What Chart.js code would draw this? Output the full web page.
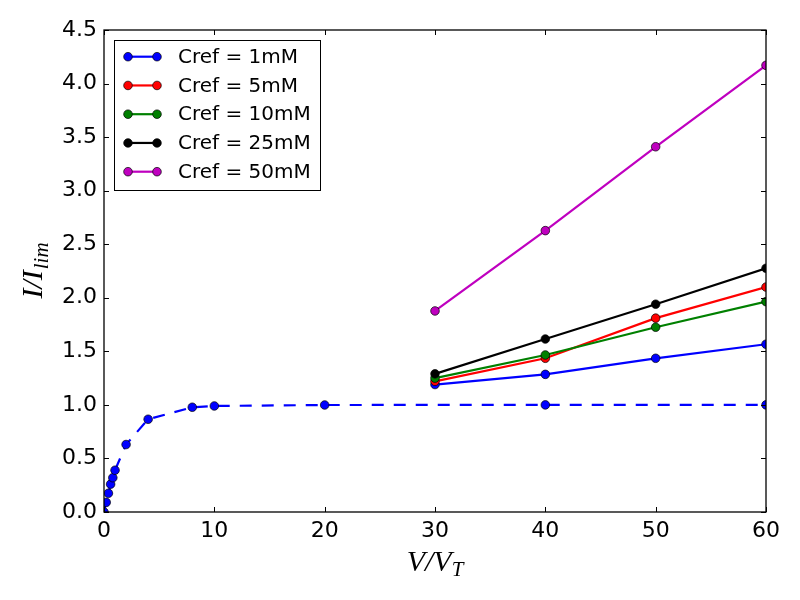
<!DOCTYPE html>
<html>
<head>
<meta charset="utf-8">
<script src="https://cdn.jsdelivr.net/npm/chart.js@4.4.1/dist/chart.umd.min.js"></script>
<style>
html,body{margin:0;padding:0;background:#fff;}
#wrap{width:800px;height:600px;}
</style>
</head>
<body>
<div id="wrap"><canvas id="c" width="800" height="600"></canvas></div>
<script>
// ---- data ----
const idealX = [0, 0.2, 0.4, 0.6, 0.8, 1, 2, 4, 8, 10, 20, 40, 60];
const idealY = [0, 0.09, 0.175, 0.26, 0.32, 0.39, 0.63, 0.866, 0.978, 0.99, 0.999, 1.0, 1.0];
const measuredX = [30, 40, 50, 60];
const cref1 = [1.19, 1.285, 1.435, 1.566];
const cref5 = [1.22, 1.435, 1.81, 2.10];
const cref10 = [1.25, 1.466, 1.725, 1.964];
const cref25 = [1.29, 1.615, 1.94, 2.275];
const cref50 = [1.877, 2.627, 3.41, 4.17];
const seriesLabels = ['Cref = 1mM', 'Cref = 5mM', 'Cref = 10mM', 'Cref = 25mM', 'Cref = 50mM'];
const xTickValues = [0, 10, 20, 30, 40, 50, 60];
const yTickValues = [0, 0.5, 1, 1.5, 2, 2.5, 3, 3.5, 4, 4.5];
const xTitle = ['V/V', 'T'];
const yTitle = ['I/I', 'lim'];

// ---- styles ----
const colors = ['#0000ff', '#ff0000', '#008000', '#000000', '#bf00bf'];
const LEGEND_FONT = '20px "DejaVu Sans"';
const TITLE_SIZE = 30;

function pts(xs, ys) { return xs.map((x, i) => ({ x: x, y: ys[i] })); }
function mkSet(label, xs, ys, color, dash, order) {
  return {
    label: label,
    data: pts(xs, ys),
    borderColor: color,
    backgroundColor: color,
    borderWidth: 2.2,
    borderDash: dash,
    pointRadius: 4.3,
    pointHoverRadius: 4.3,
    pointBackgroundColor: color,
    pointBorderColor: '#000',
    pointBorderWidth: 0.7,
    fill: false,
    tension: 0,
    clip: 0,
    order: order,
    inLegend: label !== ''
  };
}
const seriesValues = [cref1, cref5, cref10, cref25, cref50];
const datasets = [mkSet('', idealX, idealY, colors[0], [12, 10], 10)];
seriesValues.forEach((v, i) => datasets.push(mkSet(seriesLabels[i], measuredX, v, colors[i], [], 5 - i)));

const framePlugin = {
  id: 'frame',
  afterDatasetsDraw(chart) {
    const { ctx, chartArea: a, scales } = chart;
    ctx.save();
    ctx.strokeStyle = '#000';
    ctx.lineWidth = 1;
    // inward ticks on all four sides
    const TL = 5;
    ctx.beginPath();
    scales.x.ticks.forEach(t => {
      const px = Math.round(scales.x.getPixelForValue(t.value)) + 0.5;
      ctx.moveTo(px, a.bottom); ctx.lineTo(px, a.bottom - TL);
      ctx.moveTo(px, a.top); ctx.lineTo(px, a.top + TL);
    });
    scales.y.ticks.forEach(t => {
      const py = Math.round(scales.y.getPixelForValue(t.value)) + 0.5;
      ctx.moveTo(a.left, py); ctx.lineTo(a.left + TL, py);
      ctx.moveTo(a.right, py); ctx.lineTo(a.right - TL, py);
    });
    ctx.stroke();
    ctx.lineWidth = 1.3;
    ctx.strokeRect(a.left, a.top, a.right - a.left, a.bottom - a.top);

    // axis titles (italic serif with subscripts)
    ctx.fillStyle = '#000';
    const big = 'italic ' + TITLE_SIZE + 'px "Liberation Serif"';
    const small = 'italic ' + Math.round(TITLE_SIZE * 0.7) + 'px "Liberation Serif"';
    ctx.textBaseline = 'alphabetic';
    ctx.textAlign = 'left';
    // x title
    ctx.font = big; const w1 = ctx.measureText(xTitle[0]).width;
    ctx.font = small; const w2 = ctx.measureText(xTitle[1]).width;
    const cx = (a.left + a.right) / 2;
    let sx = cx - (w1 + w2) / 2;
    ctx.font = big; ctx.fillText(xTitle[0], sx, 571);
    ctx.font = small; ctx.fillText(xTitle[1], sx + w1, 576);
    // y title
    ctx.font = big; const v1 = ctx.measureText(yTitle[0]).width;
    ctx.font = small; const v2 = ctx.measureText(yTitle[1]).width;
    const cy = (a.top + a.bottom) / 2;
    ctx.save();
    ctx.translate(42, cy + (v1 + v2) / 2);
    ctx.rotate(-Math.PI / 2);
    ctx.font = big; ctx.fillText(yTitle[0], 0, 0);
    ctx.font = small; ctx.fillText(yTitle[1], v1 + 1, 6);
    ctx.restore();

    // legend
    const lx = a.left + 10, ly = a.top + 10, lw = 206, lh = 150;
    ctx.fillStyle = '#fff';
    ctx.fillRect(lx, ly, lw, lh);
    ctx.lineWidth = 1;
    ctx.strokeStyle = '#000';
    ctx.strokeRect(lx + 0.5, ly + 0.5, lw, lh);
    let row = 0;
    chart.data.datasets.forEach(d => {
      if (!d.inLegend) return;
      const y = ly + 16.7 + row * 28.75;
      const x0 = lx + 14, x1 = lx + 43;
      ctx.strokeStyle = d.borderColor;
      ctx.lineWidth = 2.2;
      ctx.beginPath(); ctx.moveTo(x0, y); ctx.lineTo(x1, y); ctx.stroke();
      [x0, x1].forEach(px => {
        ctx.beginPath(); ctx.arc(px, y, 4.3, 0, Math.PI * 2);
        ctx.fillStyle = d.pointBackgroundColor; ctx.fill();
        ctx.lineWidth = 0.7; ctx.strokeStyle = '#000'; ctx.stroke();
      });
      ctx.fillStyle = '#000';
      ctx.font = LEGEND_FONT;
      ctx.textBaseline = 'middle';
      ctx.textAlign = 'left';
      ctx.fillText(d.label, lx + 64, y + 1);
      row++;
    });
    ctx.restore();
  }
};

new Chart(document.getElementById('c'), {
  type: 'line',
  data: { datasets: datasets },
  options: {
    responsive: false,
    animation: false,
    devicePixelRatio: 1,
    layout: { padding: { top: 30, right: 34, left: 0, bottom: 0 } },
    plugins: { legend: { display: false }, tooltip: { enabled: false } },
    scales: {
      x: {
        type: 'linear', min: 0, max: 60,
        afterFit(s) { s.height = 88; },
        afterBuildTicks(s) { s.ticks = xTickValues.map(v => ({ value: v })); },
        ticks: { font: { family: 'DejaVu Sans', size: 22 }, color: '#000', padding: 6, maxRotation: 0,
          callback: v => String(v) },
        grid: { display: false, drawTicks: false },
        border: { display: false }
      },
      y: {
        type: 'linear', min: 0, max: 4.5,
        afterFit(s) { s.width = 104; },
        afterBuildTicks(s) { s.ticks = yTickValues.map(v => ({ value: v })); },
        ticks: { font: { family: 'DejaVu Sans', size: 22 }, color: '#000', padding: 7,
          callback: v => Number(v).toFixed(1) },
        grid: { display: false, drawTicks: false },
        border: { display: false }
      }
    }
  },
  plugins: [framePlugin]
});
</script>
</body>
</html>
